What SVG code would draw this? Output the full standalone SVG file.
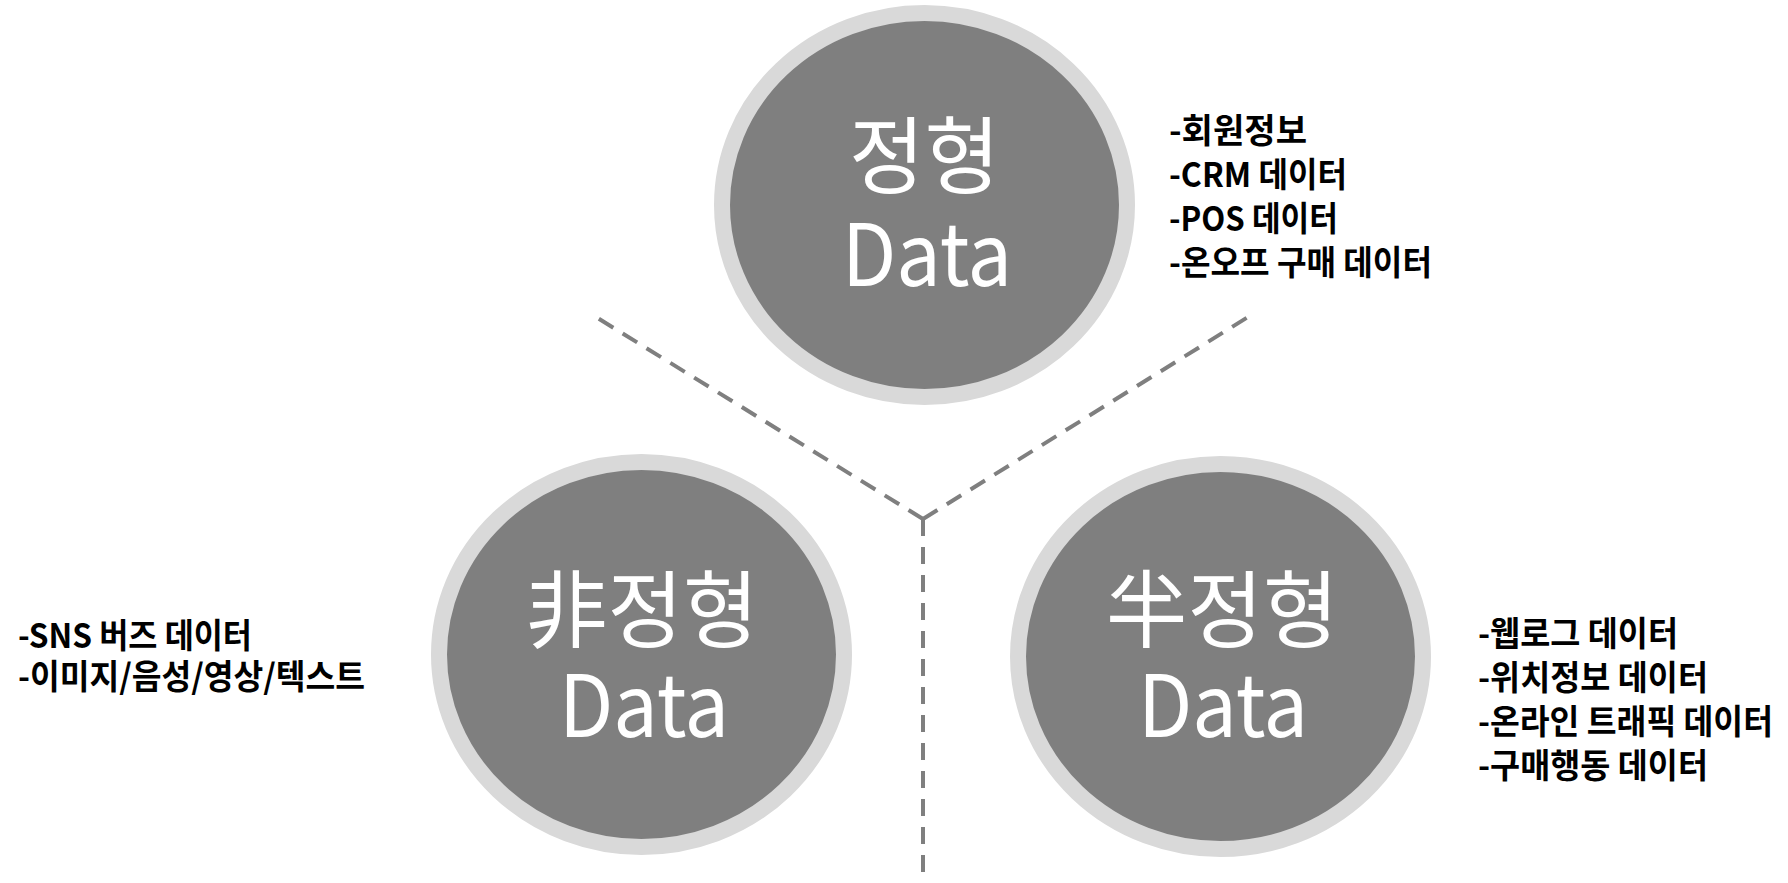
<svg xmlns="http://www.w3.org/2000/svg" width="1788" height="883" viewBox="0 0 1788 883">
<style>
.bubble{fill:#7f7f7f;stroke:#d9d9d9;stroke-width:16}
.big{font-family:"Noto Sans CJK KR","Noto Sans",sans-serif;fill:#ffffff;text-anchor:middle;font-weight:400}
.title{font-size:84px}
.data{font-size:86px}
.item{font-family:"Noto Sans CJK KR","Noto Sans",sans-serif;font-size:34px;font-weight:700;fill:#000000}
.dash{stroke:#7f7f7f;stroke-width:4;fill:none;stroke-dasharray:17 11}
</style>
<rect width="1788" height="883" fill="#ffffff"/>
<g id="connectors">
<path class="dash" d="M923 519 L596 317"/>
<path class="dash" d="M923 519 L1248 317"/>
<path class="dash" d="M923 519 L923 883"/>
</g>
<g id="node-structured">
<ellipse class="bubble" cx="924.5" cy="205" rx="202.5" ry="192"/>
<text class="big title" x="924.5" y="187" textLength="151" lengthAdjust="spacingAndGlyphs">정형</text>
<text class="big data" x="927" y="286" textLength="170" lengthAdjust="spacingAndGlyphs">Data</text>
</g>
<g id="list-structured">
<text class="item" x="1169" y="143" textLength="138" lengthAdjust="spacingAndGlyphs">-회원정보</text>
<text class="item" x="1169" y="187" textLength="178" lengthAdjust="spacingAndGlyphs">-CRM 데이터</text>
<text class="item" x="1169" y="231" textLength="169" lengthAdjust="spacingAndGlyphs">-POS 데이터</text>
<text class="item" x="1169" y="275" textLength="263" lengthAdjust="spacingAndGlyphs">-온오프 구매 데이터</text>
</g>
<g id="node-unstructured">
<ellipse class="bubble" cx="641.5" cy="654.5" rx="202.5" ry="192.5"/>
<text class="big title" x="642" y="641" textLength="233" lengthAdjust="spacingAndGlyphs">非정형</text>
<text class="big data" x="644" y="737" textLength="170" lengthAdjust="spacingAndGlyphs">Data</text>
</g>
<g id="list-unstructured">
<text class="item" x="18" y="648" textLength="234" lengthAdjust="spacingAndGlyphs">-SNS 버즈 데이터</text>
<text class="item" x="18" y="689" textLength="347" lengthAdjust="spacingAndGlyphs">-이미지/음성/영상/텍스트</text>
</g>
<g id="node-semistructured">
<ellipse class="bubble" cx="1220.5" cy="656.5" rx="202.5" ry="192.5"/>
<text class="big title" x="1222" y="641" textLength="233" lengthAdjust="spacingAndGlyphs">半정형</text>
<text class="big data" x="1223" y="737" textLength="170" lengthAdjust="spacingAndGlyphs">Data</text>
</g>
<g id="list-semistructured">
<text class="item" x="1478" y="646" textLength="200" lengthAdjust="spacingAndGlyphs">-웹로그 데이터</text>
<text class="item" x="1478" y="690" textLength="230" lengthAdjust="spacingAndGlyphs">-위치정보 데이터</text>
<text class="item" x="1478" y="734" textLength="295" lengthAdjust="spacingAndGlyphs">-온라인 트래픽 데이터</text>
<text class="item" x="1478" y="778" textLength="230" lengthAdjust="spacingAndGlyphs">-구매행동 데이터</text>
</g>
</svg>
